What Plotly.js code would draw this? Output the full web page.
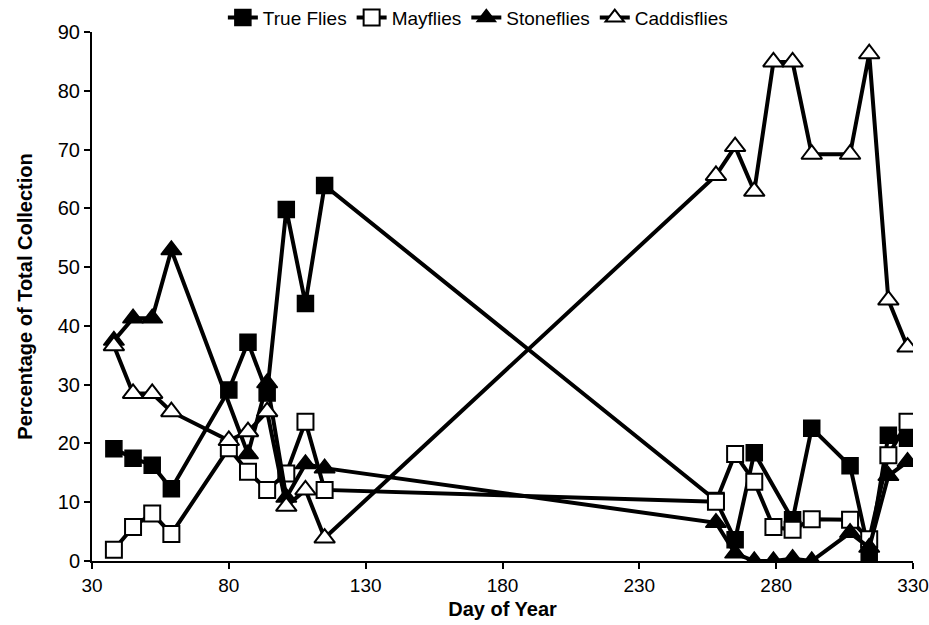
<!DOCTYPE html>
<html>
<head>
<meta charset="utf-8">
<script src="https://cdn.plot.ly/plotly-3.0.1.min.js"></script>
<style>html,body{margin:0;padding:0;background:#fff;}#chart{width:929px;height:625px;}</style>
</head>
<body>
<div id="chart"></div>
<script>
const days = [38,45,52,59,80,87,94,101,108,115,258,265,272,279,286,293,307,314,321,328];
const trueFlies   = [19.1,17.5,16.3,12.3,29.1,37.2,28.6,59.8,43.8,63.9,10.3,3.6,18.4,null,7.0,22.6,16.2,1.4,21.4,20.9];
const trueFliesDays = days;
const mayflies    = [1.9,5.8,8.1,4.6,19.2,15.2,12.1,14.9,23.7,12.1,10.1,18.2,13.5,5.8,5.3,7.1,7.0,3.7,18.0,23.7];
const stoneDays   = [38,45,52,59,87,94,101,108,115,258,265,272,279,286,293,307,314,321,328];
const stoneflies  = [37.5,41.3,41.3,52.9,18.2,30.3,10.8,16.5,15.8,6.5,1.3,0,0,0.4,0,4.8,2.3,14.5,16.9];
const caddisflies = [36.6,28.5,28.5,25.4,20.5,22.0,25.4,9.3,12.1,3.9,65.6,70.5,62.9,84.9,84.9,69.2,69.2,86.3,44.4,36.4];
const seriesNames = ["True Flies","Mayflies","Stoneflies","Caddisflies"];

function clean(xs, ys){ const X=[],Y=[]; xs.forEach((x,i)=>{ if(ys[i]!==null){X.push(x);Y.push(ys[i]);} }); return [X,Y]; }

const lineStyle = {color:'#000', width:4};
const [tfX,tfY] = clean(trueFliesDays, trueFlies);
const traces = [
  {x:tfX, y:tfY, name:seriesNames[0], mode:'lines+markers', line:lineStyle,
   marker:{symbol:'square', size:16, color:'#000', line:{color:'#000', width:1.5}}},
  {x:days, y:mayflies, name:seriesNames[1], mode:'lines+markers', line:lineStyle,
   marker:{symbol:'square', size:16, color:'#fff', line:{color:'#000', width:2}}},
  {x:stoneDays, y:stoneflies, name:seriesNames[2], mode:'lines+markers', line:lineStyle,
   marker:{symbol:'triangle-up', size:18, color:'#000', line:{color:'#000', width:1.5}}},
  {x:days, y:caddisflies, name:seriesNames[3], mode:'lines+markers', line:lineStyle,
   marker:{symbol:'triangle-up', size:18, color:'#fff', line:{color:'#000', width:2}}}
];

const layout = {
  width:929, height:625,
  margin:{l:92, r:16, t:32, b:64, autoexpand:false},
  paper_bgcolor:'#fff', plot_bgcolor:'#fff',
  showlegend:true,
  legend:{orientation:'h', x:0.47, xanchor:'center', y:1.027, yanchor:'middle',
          font:{family:'Liberation Sans, Arial, sans-serif', size:19, color:'#000'},
          itemwidth:30, tracegroupgap:0},
  xaxis:{range:[30,330], tick0:30, dtick:50, showgrid:false, zeroline:false,
         showline:true, linecolor:'#000', linewidth:2, ticks:'outside', ticklen:6, tickwidth:2, tickcolor:'#000',
         tickfont:{family:'Liberation Sans, Arial, sans-serif', size:19, color:'#000'},
         title:{text:'<b>Day of Year</b>', standoff:7,
                font:{family:'Liberation Sans, Arial, sans-serif', size:20, color:'#000'}}},
  yaxis:{range:[0,90], dtick:10, showgrid:false, zeroline:false,
         showline:true, linecolor:'#000', linewidth:2, ticks:'outside', ticklen:6, tickwidth:2, tickcolor:'#000',
         tickfont:{family:'Liberation Sans, Arial, sans-serif', size:20, color:'#000'},
         title:{text:'<b>Percentage of Total Collection</b>', standoff:20,
                font:{family:'Liberation Sans, Arial, sans-serif', size:20, color:'#000'}}}
};

Plotly.newPlot('chart', traces, layout, {displayModeBar:false, staticPlot:true});
</script>
</body>
</html>
